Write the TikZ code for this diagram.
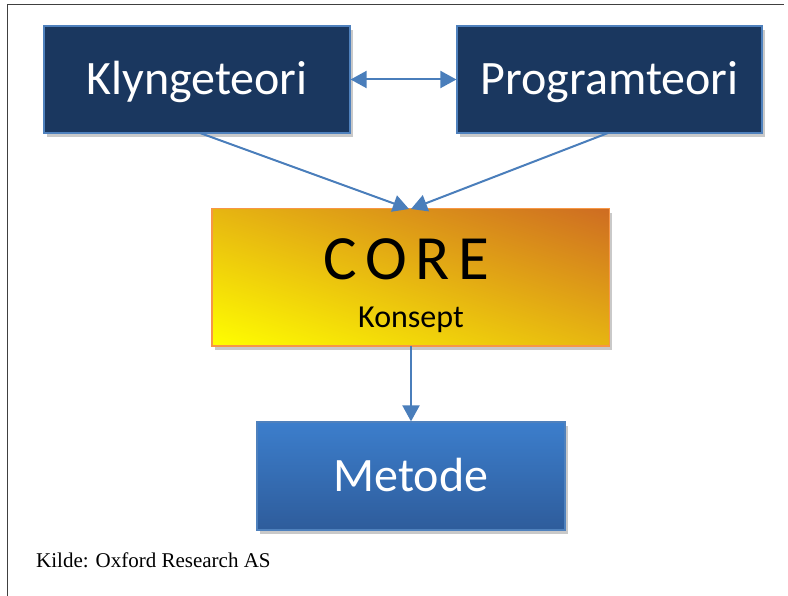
\documentclass[tikz,border=0pt]{standalone}
\usepackage{fontspec}
\setmainfont{Carlito}
\newfontfamily\notefont{Liberation Serif}
\usetikzlibrary{arrows.meta,shadows}

\definecolor{navy}{RGB}{26,55,95}
\definecolor{edgeblue}{RGB}{79,129,189}
\definecolor{arrowblue}{RGB}{74,126,187}
\definecolor{coreedge}{RGB}{247,150,70}
\definecolor{coretop}{RGB}{206,108,34}
\definecolor{coremid}{RGB}{234,196,16}
\definecolor{corelow}{RGB}{255,255,0}
\definecolor{mettop}{RGB}{60,126,204}
\definecolor{metlow}{RGB}{46,92,155}
\definecolor{framegray}{RGB}{64,64,64}

\tikzset{
  boxshadow/.style={drop shadow={shadow xshift=3pt, shadow yshift=-4pt, opacity=0.35, fill=black!60}},
  darkbox/.style={draw=edgeblue, line width=1.2pt, fill=navy, minimum width=306pt,
    minimum height=107pt, inner sep=0pt, text=white, font=\fontsize{48}{52}\selectfont,
    text height=31pt, text depth=0pt, boxshadow},
  corebox/.style={fill=coremid, minimum width=397pt, minimum height=137pt,
    inner sep=0pt, boxshadow},
  metbox/.style={draw=edgeblue, line width=1.2pt, minimum width=308pt, minimum height=108pt,
    inner sep=0pt, top color=mettop, bottom color=metlow, text=white,
    font=\fontsize{48}{52}\selectfont, text height=31pt, text depth=0pt, boxshadow},
  link/.style={draw=arrowblue, line width=2pt,
    -{Triangle[length=16pt,width=17pt]}},
  dlink/.style={draw=arrowblue, line width=2pt,
    {Triangle[length=16pt,width=17pt]}-{Triangle[length=16pt,width=17pt]}},
}

\begin{document}
\begin{tikzpicture}[x=1pt,y=-1pt]
  \useasboundingbox (0,0) rectangle (788,596);
  \fill[white] (0,0) rectangle (788,596);

  % page frame: top and left rules
  \draw[framegray, line width=1pt] (7,596) -- (7,5) -- (784,5);

  % boxes
  \node[darkbox] (klynge) at (197,79.5) {Klyngeteori};
  \node[darkbox, minimum width=305pt] (program) at (609.5,79.5) {Programteori};

  % CORE box: diagonal yellow-to-orange gradient, then its orange outline
  \node[corebox] (core) at (410.5,277.5) {};
  \begin{scope}
    \clip (core.north west) rectangle (core.south east);
    \begin{scope}[transform canvas={rotate around={-19:(core.center)}}]
      \shade[top color=coretop, middle color=coremid, bottom color=corelow]
        ([shift={(-216,-130)}]core.center) rectangle ([shift={(216,130)}]core.center);
    \end{scope}
  \end{scope}
  \draw[coreedge, line width=1.4pt] (core.north west) rectangle (core.south east);

  \node[text=black, inner sep=0pt, anchor=base,
        font=\fontsize{63}{66}\selectfont\addfontfeature{LetterSpace=14}] (coretitle) at (406.5,280) {CORE};
  \node[text=black, inner sep=0pt, anchor=base,
        font=\fontsize{32}{36}\selectfont] (coresub) at (411,327) {Konsept};
  \node[metbox] (metode) at (411,476) {Metode};

  % source note
  \node[anchor=base west, inner sep=0pt, font=\notefont\fontsize{21}{25}\selectfont] (kilde)
    at (36,567) {Kilde: Oxford Research AS};

  % connectors
  \coordinate (kout) at (200,133);
  \coordinate (pout) at (608,133);
  \coordinate (kin) at (409,209);
  \coordinate (pin) at (411,209);
  \draw[dlink] (klynge.east) -- (program.west);
  \draw[link] (kout) -- (kin);
  \draw[link] (pout) -- (pin);
  \draw[link] (core.south -| metode.north) -- (metode.north);
\end{tikzpicture}
\end{document}
